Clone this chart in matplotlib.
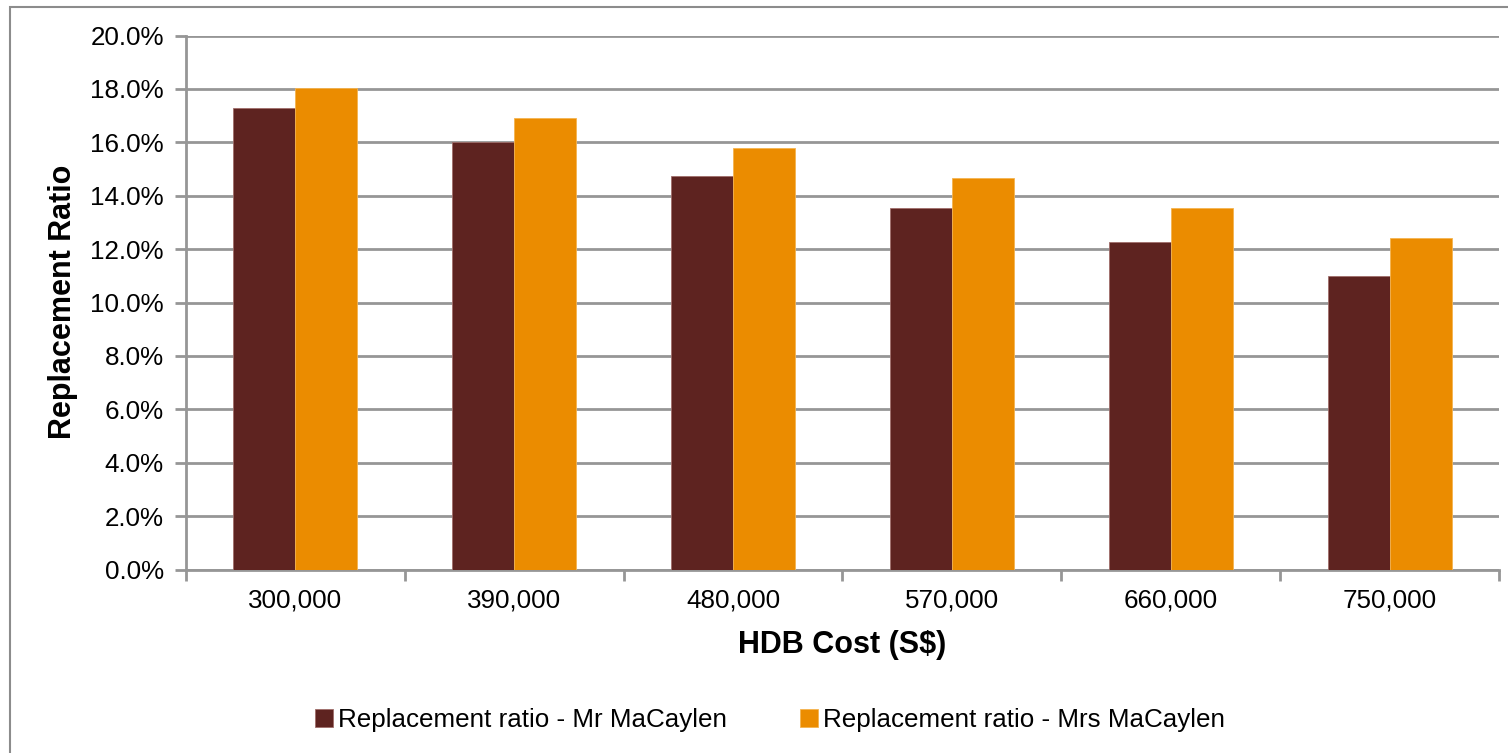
import numpy as np
import matplotlib.pyplot as plt
from matplotlib.patches import Rectangle
from matplotlib.ticker import FuncFormatter, MultipleLocator

plt.rcParams['font.family'] = ['Liberation Sans', 'DejaVu Sans']

costs = ['300,000', '390,000', '480,000', '570,000', '660,000', '750,000']
mr_ratio = [17.27, 16.00, 14.73, 13.53, 12.25, 10.98]
mrs_ratio = [18.02, 16.90, 15.78, 14.66, 13.53, 12.40]
series_names = ['Replacement ratio - Mr MaCaylen', 'Replacement ratio - Mrs MaCaylen']

MR_COLOR = '#5E2320'
MRS_COLOR = '#EB8C00'
GRID = '#969696'
FS = 18.7

fig = plt.figure(figsize=(15.08, 7.53), dpi=100, facecolor='white')
ax = fig.add_axes([186 / 1508, 1 - 569.5 / 753, (1499 - 186) / 1508, (569.5 - 35.5) / 753])

# chart area border
fig.patches.append(Rectangle((10 / 1508, -0.05), 1.1, 1 - 7 / 753 + 0.05,
                             transform=fig.transFigure, fill=False,
                             edgecolor='#8C8C8C', linewidth=1.5))

x = np.arange(len(costs))
w = 0.283
ax.bar(x - w / 2, mr_ratio, w, color=MR_COLOR, edgecolor='#A06E6B', linewidth=0.6,
       label=series_names[0], zorder=3)
ax.bar(x + w / 2, mrs_ratio, w, color=MRS_COLOR, edgecolor='#F5B450', linewidth=0.6,
       label=series_names[1], zorder=3)

ax.set_xlim(-0.5, len(costs) - 0.5)
ax.set_ylim(0, 20)
ax.yaxis.set_major_locator(MultipleLocator(2))
ax.yaxis.set_major_formatter(FuncFormatter(lambda v, p: f'{v:.1f}%'))
ax.set_xticks(x)
ax.set_xticklabels(costs)
ax.set_xticks(np.arange(-0.5, len(costs)), minor=True)
ax.tick_params(axis='x', which='major', length=0, pad=14, labelsize=FS)
ax.tick_params(axis='x', which='minor', length=8, width=2, color=GRID, direction='out')
ax.tick_params(axis='y', length=8, width=2, color=GRID, direction='out', pad=8, labelsize=FS)

ax.grid(axis='y', color=GRID, linewidth=2, zorder=0)
for s in ['top', 'right']:
    ax.spines[s].set_visible(False)
for s in ['left', 'bottom']:
    ax.spines[s].set_color(GRID)
    ax.spines[s].set_linewidth(2)

fig.text(842 / 1508, 1 - 645 / 753, 'HDB Cost (S$)', ha='center', va='center',
         fontsize=22, fontweight='bold')
fig.text(63 / 1508, 1 - 302 / 753, 'Replacement Ratio', ha='center', va='center',
         rotation=90, fontsize=22, fontweight='bold')

fig.legend(loc='center', bbox_to_anchor=(770 / 1508, 1 - 720 / 753), ncol=2,
           frameon=False, fontsize=FS, handlelength=0.7, handleheight=0.7,
           handletextpad=0.2, columnspacing=2.8)

fig.savefig('out.png', dpi=100, facecolor='white')
